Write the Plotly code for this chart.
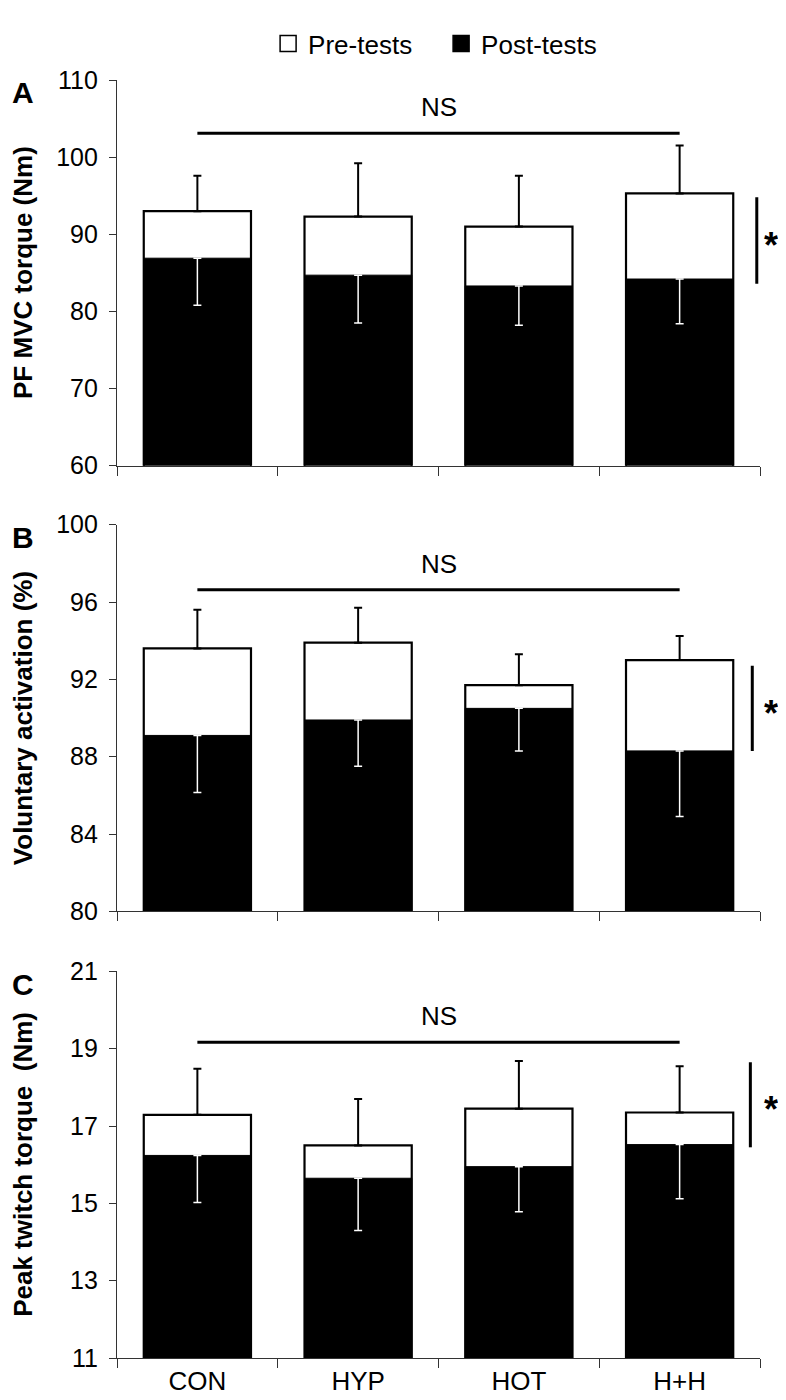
import plotly.graph_objects as go

categories = ["CON", "HYP", "HOT", "H+H"]

# Panel A: PF MVC torque (Nm)
a_pre = [93.0, 92.3, 91.0, 95.3]
a_pre_sd = [4.6, 6.9, 6.6, 6.2]
a_post = [86.9, 84.7, 83.3, 84.2]
a_post_sd = [6.1, 6.2, 5.1, 5.8]

# Panel B: Voluntary activation (%)
b_pre = [93.6, 93.9, 91.7, 93.0]
b_pre_sd = [2.0, 1.8, 1.6, 1.25]
b_post = [89.1, 89.9, 90.5, 88.3]
b_post_sd = [2.95, 2.4, 2.2, 3.4]

# Panel C: Peak twitch torque (Nm)
c_pre = [17.29, 16.5, 17.45, 17.35]
c_pre_sd = [1.19, 1.2, 1.23, 1.2]
c_post = [16.24, 15.65, 15.95, 16.52]
c_post_sd = [1.22, 1.35, 1.17, 1.4]

titles = ["PF MVC torque (Nm)", "Voluntary activation (%)", "Peak twitch torque  (Nm)"]
letters = ["A", "B", "C"]
y_ranges = [[60, 110], [80, 100], [11, 21]]
y_dticks = [10, 4, 2]
ns_levels = [103.1, 96.64, 19.17]
sig_spans = [(94.8, 83.6), (92.7, 88.3), (18.65, 16.45)]

# layout geometry (paper fractions)
domains = [[0.6982, 1.0], [0.3495, 0.6520], [0.0, 0.3025]]
sig_x = [0.995, 0.988, 0.985]
star_x = 1.017

FONT = "Liberation Sans, Arial, sans-serif"

panels = [
    (a_pre, a_pre_sd, a_post, a_post_sd),
    (b_pre, b_pre_sd, b_post, b_post_sd),
    (c_pre, c_pre_sd, c_post, c_post_sd),
]

fig = go.Figure()
shapes = []
annotations = []

for i, (pre, pre_sd, post, post_sd) in enumerate(panels):
    sfx = "" if i == 0 else str(i + 1)
    xa, ya = "x" + sfx, "y" + sfx
    fig.add_trace(go.Bar(
        x=categories, y=pre, xaxis=xa, yaxis=ya, name="Pre-tests",
        marker=dict(color="white", line=dict(color="black", width=2.2)),
        error_y=dict(type="data", symmetric=False, array=pre_sd,
                     arrayminus=[0] * len(pre_sd), color="black",
                     thickness=2, width=4),
        showlegend=False,
    ))
    fig.add_trace(go.Bar(
        x=categories, y=post, xaxis=xa, yaxis=ya, name="Post-tests",
        marker=dict(color="black", line=dict(color="black", width=1)),
        error_y=dict(type="data", symmetric=False, array=[0] * len(post_sd),
                     arrayminus=post_sd, color="white", thickness=1.5, width=4),
        showlegend=False,
    ))
    # NS line
    shapes.append(dict(type="line", xref=xa, yref=ya, x0=0, x1=3,
                       y0=ns_levels[i], y1=ns_levels[i],
                       line=dict(color="black", width=3)))
    annotations.append(dict(text="NS", xref=xa, yref=ya, x=1.5, y=ns_levels[i],
                            yanchor="bottom", yshift=9, showarrow=False,
                            font=dict(family=FONT, size=26, color="black")))
    # significance bar
    shapes.append(dict(type="line", xref="paper", yref=ya, x0=sig_x[i], x1=sig_x[i],
                       y0=sig_spans[i][0], y1=sig_spans[i][1],
                       line=dict(color="black", width=3)))
    annotations.append(dict(text="<b>*</b>", xref="paper", yref=ya, x=star_x,
                            y=(sig_spans[i][0] + sig_spans[i][1]) / 2,
                            xanchor="center", yanchor="middle", yshift=-5, showarrow=False,
                            font=dict(family=FONT, size=36, color="black")))
    # y title and panel letter
    d0, d1 = domains[i]
    annotations.append(dict(text="<b>" + titles[i] + "</b>", xref="paper", yref="paper",
                            x=-0.146, y=(d0 + d1) / 2, textangle=-90,
                            xanchor="center", yanchor="middle", showarrow=False,
                            font=dict(family=FONT, size=26, color="black")))
    annotations.append(dict(text="<b>" + letters[i] + "</b>", xref="paper", yref="paper",
                            x=-0.146, y=d1 - 0.010, xanchor="center", yanchor="middle",
                            showarrow=False,
                            font=dict(family=FONT, size=30, color="black")))

# legend entries
fig.add_trace(go.Scatter(x=[None], y=[None], mode="markers", name="Pre-tests",
                         marker=dict(symbol="square", size=16, color="white",
                                     line=dict(color="black", width=1.5))))
fig.add_trace(go.Scatter(x=[None], y=[None], mode="markers", name="Post-tests",
                         marker=dict(symbol="square", size=16, color="black",
                                     line=dict(color="black", width=1.5))))

axis_common = dict(showline=True, linecolor="#333", linewidth=1.3, showgrid=False,
                   zeroline=False, ticks="outside", tickcolor="#333", tickwidth=1.3,
                   tickfont=dict(family=FONT, size=25, color="black"))

layout = dict(
    width=786, height=1400,
    margin=dict(l=109, r=34, t=54, b=47),
    plot_bgcolor="white", paper_bgcolor="white",
    barmode="overlay", bargap=0.333,
    shapes=shapes, annotations=annotations,
    showlegend=True,
    legend=dict(orientation="h", x=0.235, xanchor="left", y=1.0285, yanchor="middle",
                font=dict(family=FONT, size=26, color="black"), itemwidth=30,
                entrywidth=128, bgcolor="rgba(0,0,0,0)"),
)
for i in range(3):
    sfx = "" if i == 0 else str(i + 1)
    layout["xaxis" + sfx] = dict(axis_common, domain=[0, 1], anchor="y" + sfx,
                                 type="category", categoryorder="array",
                                 categoryarray=categories, range=[-0.5, 3.5],
                                 tickson="boundaries", ticklen=9,
                                 showticklabels=(i == 2))
    layout["yaxis" + sfx] = dict(axis_common, domain=domains[i], anchor="x" + sfx,
                                 range=y_ranges[i], dtick=y_dticks[i],
                                 tick0=y_ranges[i][0], ticklen=7,
                                 ticklabelstandoff=6)
fig.update_layout(**layout)
fig.update_xaxes(tickfont=dict(size=26))

fig.write_html("out.html")
